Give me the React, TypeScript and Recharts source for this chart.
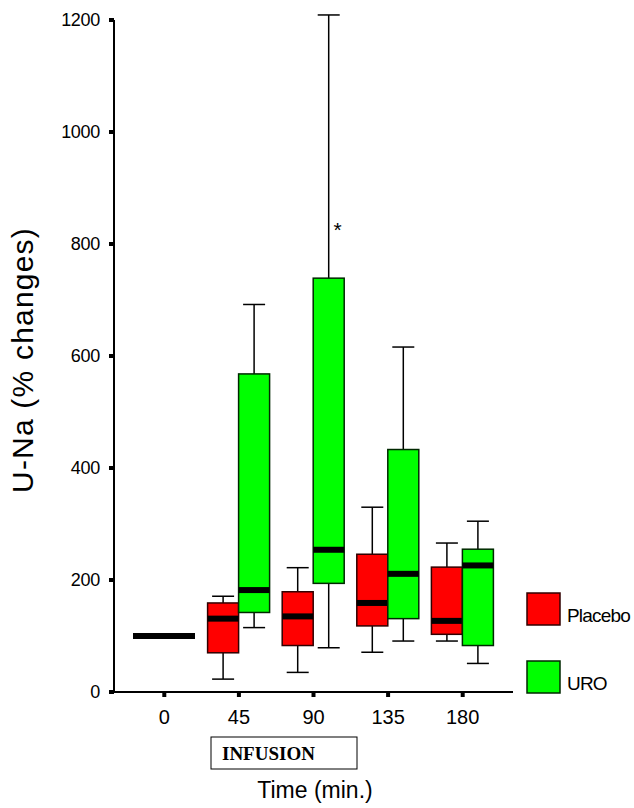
import React from 'react';
import { ComposedChart, Bar, XAxis, YAxis, Legend } from 'recharts';

// time points (min)
const TIMES = ['0', '45', '90', '135', '180'];
const Y_TICKS = [0, 200, 400, 600, 800, 1000, 1200];

// Placebo box stats (% changes)
const PLACEBO_MIN = [100, 23, 35, 71, 91];
const PLACEBO_Q1 = [100, 70, 83, 118, 103];
const PLACEBO_MED = [100, 131, 135, 159, 127];
const PLACEBO_Q3 = [100, 159, 179, 246, 223];
const PLACEBO_MAX = [100, 171, 222, 330, 266];

// URO box stats
const URO_MIN = [100, 115, 79, 91, 51];
const URO_Q1 = [100, 142, 194, 131, 83];
const URO_MED = [100, 182, 254, 211, 226];
const URO_Q3 = [100, 568, 739, 433, 255];
const URO_MAX = [100, 692, 1209, 616, 305];
const URO_EXTREME = [null, null, 834, null, null];

const data = TIMES.map((time, i) => ({
  time,
  placebo: {
    min: PLACEBO_MIN[i],
    q1: PLACEBO_Q1[i],
    median: PLACEBO_MED[i],
    q3: PLACEBO_Q3[i],
    max: PLACEBO_MAX[i],
    extreme: null,
  },
  uro: {
    min: URO_MIN[i],
    q1: URO_Q1[i],
    median: URO_MED[i],
    q3: URO_Q3[i],
    max: URO_MAX[i],
    extreme: URO_EXTREME[i],
  },
}));

const FONT = '"Liberation Sans", Arial, sans-serif';

function BoxShape(props: any) {
  const { x, y, width, height, stats, fill, border } = props;
  const a = y;
  const b = y + height;
  const pixHi = Math.min(a, b); // q3
  const pixLo = Math.max(a, b); // min
  const span = stats.q3 - stats.min;
  const pix = (v: number) => (span === 0 ? pixHi : pixLo + ((pixHi - pixLo) * (v - stats.min)) / span);
  const cx = x + width / 2;
  const cap = 11;
  const parts: React.ReactNode[] = [];

  if (stats.max > stats.q3) {
    parts.push(<line key="wt" x1={cx} x2={cx} y1={pix(stats.max)} y2={pix(stats.q3)} stroke="#000" strokeWidth={1.5} />);
    parts.push(<line key="ct" x1={cx - cap} x2={cx + cap} y1={pix(stats.max)} y2={pix(stats.max)} stroke="#000" strokeWidth={1.5} />);
  }
  if (stats.min < stats.q1) {
    parts.push(<line key="wb" x1={cx} x2={cx} y1={pix(stats.q1)} y2={pix(stats.min)} stroke="#000" strokeWidth={1.5} />);
    parts.push(<line key="cb" x1={cx - cap} x2={cx + cap} y1={pix(stats.min)} y2={pix(stats.min)} stroke="#000" strokeWidth={1.5} />);
  }
  if (stats.q3 > stats.q1) {
    parts.push(
      <rect key="box" x={x} y={pix(stats.q3)} width={width} height={pix(stats.q1) - pix(stats.q3)}
        fill={fill} stroke={border} strokeWidth={1.5} />
    );
  }
  parts.push(<rect key="med" x={x} y={pix(stats.median) - 3} width={width} height={6} fill="#000" />);
  if (stats.extreme != null) {
    parts.push(
      <text key="ext" x={cx + 9} y={pix(stats.extreme) + 12} textAnchor="middle" fontSize={21}
        fontFamily={FONT} fill="#000">*</text>
    );
  }
  return <g>{parts}</g>;
}

function LegendBox({ payload }: any) {
  const rows = payload || [];
  return (
    <div style={{ position: 'relative', width: 0, height: 0 }}>
      <svg width={634} height={808} style={{ position: 'absolute', left: 0, top: 0, overflow: 'visible', pointerEvents: 'none' }}>
        {rows.map((item: any, i: number) => {
          const top = i === 0 ? 593 : 661;
          return (
            <g key={item.value}>
              <rect x={527} y={top} width={33} height={32} fill={item.color} stroke={i === 0 ? '#300000' : '#002800'} strokeWidth={1.5} />
              <text x={567} y={top + 29} fontSize={19} letterSpacing={-0.8} fontFamily={FONT} fill="#000">{item.value}</text>
            </g>
          );
        })}
      </svg>
    </div>
  );
}

function YLabel() {
  return (
    <text x={33} y={360} transform="rotate(-90, 33, 360)" textAnchor="middle" fontSize={30}
      letterSpacing={1.2} fontFamily={FONT} fill="#000">U-Na (% changes)</text>
  );
}

function XLabel() {
  return (
    <g>
      <rect x={211} y={737} width={146} height={32} fill="#fff" stroke="#000" strokeWidth={1} />
      <text x={222} y={760} fontSize={19} fontWeight="bold" fontFamily='"Liberation Serif", "Times New Roman", serif' fill="#000">INFUSION</text>
      <text x={315} y={798} textAnchor="middle" fontSize={23} fontFamily={FONT} fill="#000">Time (min.)</text>
    </g>
  );
}

export default function App() {
  return (
    <div style={{ position: 'fixed', left: 0, top: 0, background: '#fff' }}>
      <ComposedChart
        width={634}
        height={808}
        data={data}
        margin={{ top: 20, right: 121, left: 54, bottom: 86 }}
        barGap={0}
        barSize={31}
      >
        <XAxis
          dataKey="time"
          padding={{ left: 13, right: 13 }}
          axisLine={{ stroke: '#000', strokeWidth: 2 }}
          tickLine={{ stroke: '#000', strokeWidth: 4 }}
          tickSize={5}
          tickMargin={13}
          height={30}
          tick={{ fill: '#000', fontSize: 20, fontFamily: FONT }}
          label={XLabel}
        />
        <XAxis xAxisId="top" orientation="top" dataKey="time" height={0} tick={false} tickLine={false}
          axisLine={{ stroke: '#000', strokeWidth: 2 }} padding={{ left: 13, right: 13 }} />
        <YAxis
          domain={[0, 1200]}
          ticks={Y_TICKS}
          width={60}
          axisLine={{ stroke: '#000', strokeWidth: 2 }}
          tickLine={{ stroke: '#000', strokeWidth: 4 }}
          tickSize={5}
          tickMargin={9}
          tick={{ fill: '#000', fontSize: 18, fontFamily: FONT, letterSpacing: -0.3 }}
          label={YLabel}
        />
        <YAxis yAxisId="right" orientation="right" width={0} domain={[0, 1200]} tick={false} tickLine={false}
          axisLine={{ stroke: '#000', strokeWidth: 2 }} />
        <Legend content={LegendBox} wrapperStyle={{ left: 0, top: 0, width: 0, height: 0 }} />
        <Bar
          dataKey={(d: any) => [d.placebo.min, d.placebo.q3]}
          name="Placebo"
          fill="#ff0000"
          isAnimationActive={false}
          shape={(p: any) => <BoxShape {...p} stats={p.payload.placebo} fill="#ff0000" border="#300000" />}
        />
        <Bar
          dataKey={(d: any) => [d.uro.min, d.uro.q3]}
          name="URO"
          fill="#00ff00"
          isAnimationActive={false}
          shape={(p: any) => <BoxShape {...p} stats={p.payload.uro} fill="#00ff00" border="#002800" />}
        />
      </ComposedChart>
    </div>
  );
}
